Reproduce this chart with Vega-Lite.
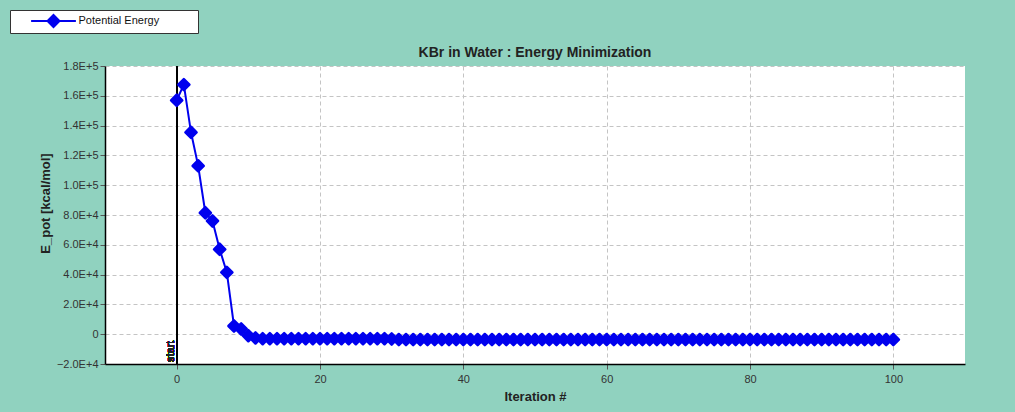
{
  "$schema": "https://vega.github.io/schema/vega-lite/v6.json",
  "width": 860,
  "height": 298,
  "autosize": {"type": "none"},
  "padding": {"left": 105, "top": 66, "right": 50, "bottom": 48},
  "background": "#90d2bf",
  "view": {"fill": "white", "stroke": null},
  "config": {
    "font": "Liberation Sans",
    "axis": {
      "labelFont": "Liberation Sans",
      "labelFontSize": 11,
      "labelColor": "#333333",
      "labelOverlap": false,
      "titleFont": "Liberation Sans",
      "titleFontSize": 13,
      "titleFontWeight": "bold",
      "titleColor": "#222222",
      "domainColor": "#000000",
      "domainWidth": 1.5,
      "tickColor": "#555555",
      "tickSize": 5,
      "grid": true,
      "gridColor": "#c4c4c4",
      "gridDash": [4, 3],
      "gridWidth": 1
    },
    "title": {"font": "Liberation Sans", "fontSize": 14, "fontWeight": "bold", "color": "#222222"}
  },
  "title": {"text": "KBr in Water : Energy Minimization", "offset": -50, "anchor": "middle"},
  "data": {
    "values": [
      {"iter": 0, "energy": 157000}, {"iter": 1, "energy": 167500}, {"iter": 2, "energy": 135500},
      {"iter": 3, "energy": 113000}, {"iter": 4, "energy": 81500}, {"iter": 5, "energy": 76000},
      {"iter": 6, "energy": 57000}, {"iter": 7, "energy": 41500}, {"iter": 8, "energy": 5500},
      {"iter": 9, "energy": 3500}, {"iter": 10, "energy": -1000}, {"iter": 11, "energy": -2500},
      {"iter": 12, "energy": -3000}, {"iter": 13, "energy": -3000}, {"iter": 14, "energy": -3000},
      {"iter": 15, "energy": -3000}, {"iter": 16, "energy": -3000}, {"iter": 17, "energy": -3000},
      {"iter": 18, "energy": -3000}, {"iter": 19, "energy": -3000}, {"iter": 20, "energy": -3000},
      {"iter": 21, "energy": -3000}, {"iter": 22, "energy": -3000}, {"iter": 23, "energy": -3000},
      {"iter": 24, "energy": -3000}, {"iter": 25, "energy": -3000}, {"iter": 26, "energy": -3000},
      {"iter": 27, "energy": -3000}, {"iter": 28, "energy": -3000}, {"iter": 29, "energy": -3000},
      {"iter": 30, "energy": -3200}, {"iter": 31, "energy": -3600}, {"iter": 32, "energy": -3600},
      {"iter": 33, "energy": -3600}, {"iter": 34, "energy": -3600}, {"iter": 35, "energy": -3600},
      {"iter": 36, "energy": -3600}, {"iter": 37, "energy": -3600}, {"iter": 38, "energy": -3600},
      {"iter": 39, "energy": -3600}, {"iter": 40, "energy": -3600}, {"iter": 41, "energy": -3600},
      {"iter": 42, "energy": -3600}, {"iter": 43, "energy": -3600}, {"iter": 44, "energy": -3600},
      {"iter": 45, "energy": -3600}, {"iter": 46, "energy": -3600}, {"iter": 47, "energy": -3600},
      {"iter": 48, "energy": -3600}, {"iter": 49, "energy": -3600}, {"iter": 50, "energy": -3600},
      {"iter": 51, "energy": -3600}, {"iter": 52, "energy": -3600}, {"iter": 53, "energy": -3600},
      {"iter": 54, "energy": -3600}, {"iter": 55, "energy": -3600}, {"iter": 56, "energy": -3600},
      {"iter": 57, "energy": -3600}, {"iter": 58, "energy": -3600}, {"iter": 59, "energy": -3600},
      {"iter": 60, "energy": -3600}, {"iter": 61, "energy": -3600}, {"iter": 62, "energy": -3600},
      {"iter": 63, "energy": -3600}, {"iter": 64, "energy": -3600}, {"iter": 65, "energy": -3600},
      {"iter": 66, "energy": -3600}, {"iter": 67, "energy": -3600}, {"iter": 68, "energy": -3600},
      {"iter": 69, "energy": -3600}, {"iter": 70, "energy": -3600}, {"iter": 71, "energy": -3600},
      {"iter": 72, "energy": -3600}, {"iter": 73, "energy": -3600}, {"iter": 74, "energy": -3600},
      {"iter": 75, "energy": -3600}, {"iter": 76, "energy": -3600}, {"iter": 77, "energy": -3600},
      {"iter": 78, "energy": -3600}, {"iter": 79, "energy": -3600}, {"iter": 80, "energy": -3600},
      {"iter": 81, "energy": -3600}, {"iter": 82, "energy": -3600}, {"iter": 83, "energy": -3600},
      {"iter": 84, "energy": -3600}, {"iter": 85, "energy": -3600}, {"iter": 86, "energy": -3600},
      {"iter": 87, "energy": -3600}, {"iter": 88, "energy": -3600}, {"iter": 89, "energy": -3600},
      {"iter": 90, "energy": -3600}, {"iter": 91, "energy": -3600}, {"iter": 92, "energy": -3600},
      {"iter": 93, "energy": -3600}, {"iter": 94, "energy": -3600}, {"iter": 95, "energy": -3600},
      {"iter": 96, "energy": -3600}, {"iter": 97, "energy": -3600}, {"iter": 98, "energy": -3600},
      {"iter": 99, "energy": -3600}, {"iter": 100, "energy": -3600}
    ]
  },
  "layer": [
    {
      "mark": {"type": "line", "color": "#0000ee", "strokeWidth": 2},
      "encoding": {
        "x": {
          "field": "iter", "type": "quantitative",
          "scale": {"domain": [-10, 110], "nice": false, "zero": false},
          "axis": {"title": "Iteration #", "values": [0, 20, 40, 60, 80, 100], "tickCount": 20, "labelPadding": 4, "titlePadding": 6, "labelOverlap": false}
        },
        "y": {
          "field": "energy", "type": "quantitative",
          "scale": {"domain": [-20000, 180000], "nice": false},
          "axis": {
            "title": "E_pot  [kcal/mol]",
            "values": [-20000, 0, 20000, 40000, 60000, 80000, 100000, 120000, 140000, 160000, 180000],
            "tickCount": 20,
            "labelExpr": "datum.value == 0 ? '0' : upper(format(datum.value, '.1e'))",
            "labelOverlap": false,
            "labelBound": false,
            "labelPadding": 2,
            "titlePadding": 4,
            "titleY": 137
          }
        }
      }
    },
    {
      "mark": {"type": "rule", "color": "#000000", "strokeWidth": 1},
      "encoding": {"x": {"datum": 0}}
    },
    {
      "mark": {"type": "text", "text": "start", "angle": 270, "align": "left", "baseline": "bottom", "dx": 2, "dy": -1, "fontSize": 11, "color": "#222222", "font": "Liberation Sans"},
      "encoding": {"x": {"datum": 0}, "y": {"datum": -20000}}
    },
    {
      "mark": {"type": "point", "shape": "diamond", "filled": true, "size": 125, "stroke": "#0000ee", "strokeWidth": 2.5, "strokeJoin": "round", "opacity": 1},
      "encoding": {
        "x": {"field": "iter", "type": "quantitative"},
        "y": {"field": "energy", "type": "quantitative"},
        "color": {
          "datum": "Potential Energy",
          "scale": {"range": ["#0000ee"]},
          "legend": {
            "title": null,
            "orient": "none",
            "legendX": -95,
            "legendY": -56,
            "padding": 2,
            "fillColor": "white",
            "strokeColor": "#333333",
            "symbolType": "M-2.8,0H-0.75M0.75,0H2.8M0,-0.75L0.75,0L0,0.75L-0.75,0ZM17.3,0",
            "symbolSize": 256,
            "symbolOffset": 32.5,
            "labelOffset": 16,
            "labelFont": "Liberation Sans",
            "labelFontSize": 11,
            "labelColor": "#111111",
            "symbolStrokeWidth": 2,
            "symbolFillColor": "#0000ee",
            "symbolStrokeColor": "#0000ee",
            "encode": {
              "symbols": {"update": {"fill": {"value": "#0000ee"}, "stroke": {"value": "#0000ee"}, "strokeWidth": {"value": 2}, "opacity": {"value": 1}}}
            }
          }
        }
      }
    }
  ]
}
